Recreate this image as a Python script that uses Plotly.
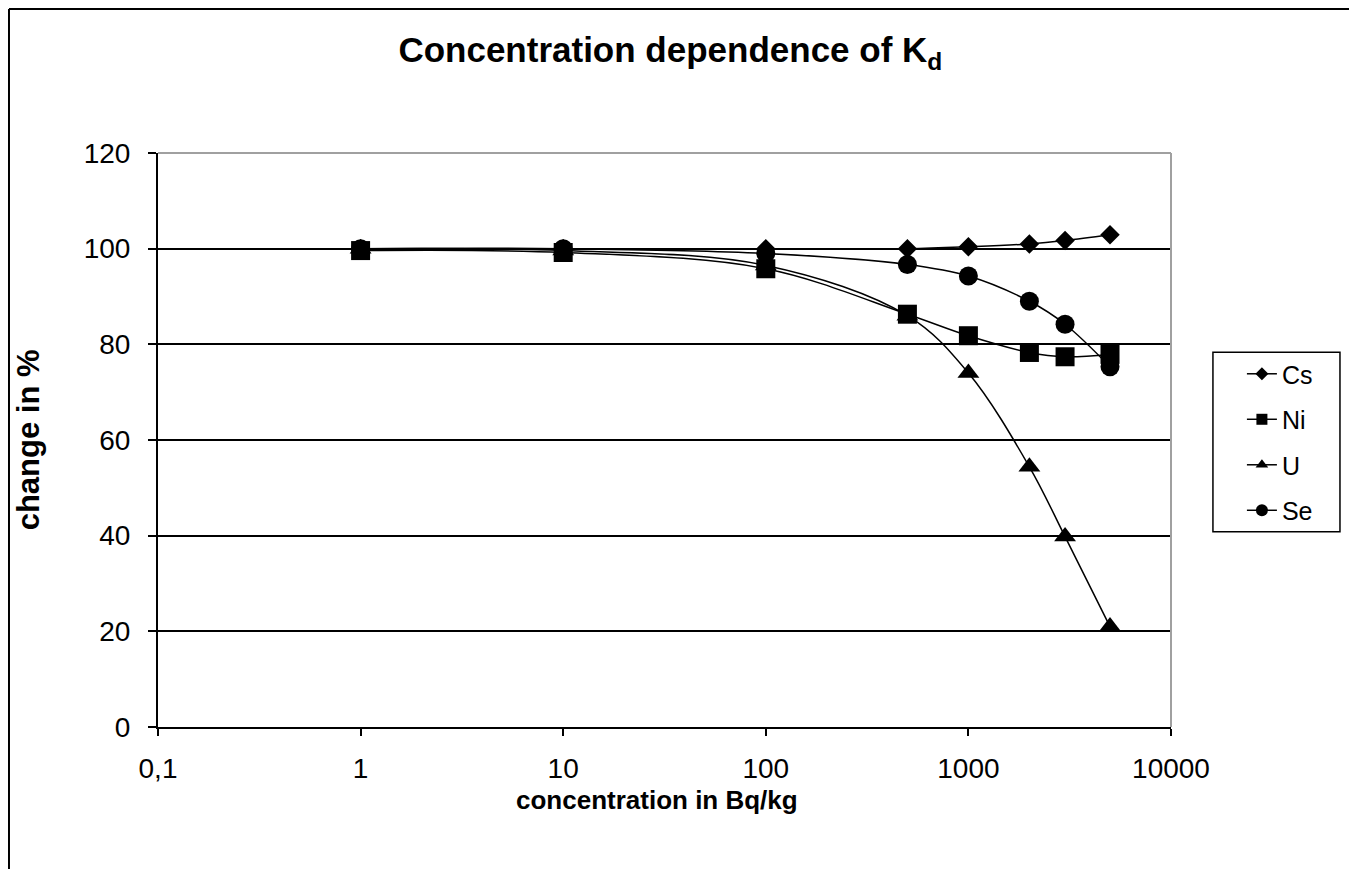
"""Concentration dependence of Kd - line chart with smoothed curves"""

import plotly.graph_objects as go

concentration = [1, 10, 100, 500, 1000, 2000, 3000, 5000]
cs_values = [100, 100, 100, 100, 100.4, 101.0, 101.7, 102.9]
ni_values = [99.6, 99.2, 95.8, 86.3, 81.8, 78.3, 77.4, 77.9]
u_values = [100, 99.6, 96.5, 86.0, 74.0, 54.4, 39.8, 21.0]
se_values = [100, 100, 99.0, 96.7, 94.3, 89.0, 84.2, 75.3]

x_tick_vals = [0.1, 1, 10, 100, 1000, 10000]
x_tick_text = ["0,1", "1", "10", "100", "1000", "10000"]

# name, values, symbol, plot marker size, legend marker size
series = [
    ("Cs", cs_values, "diamond", 15, 10),
    ("Ni", ni_values, "square", 19, 11),
    ("U", u_values, "triangle-up", 19, 11),
    ("Se", se_values, "circle", 19, 12),
]

FONT = "Liberation Sans, Arial, sans-serif"

fig = go.Figure()

# data traces (big markers, no legend)
for name, values, symbol, size, _ in series:
    fig.add_trace(
        go.Scatter(
            x=concentration,
            y=values,
            mode="lines+markers",
            line=dict(color="black", width=1.5, shape="spline", smoothing=1),
            marker=dict(symbol=symbol, size=size, color="black"),
            name=name,
            showlegend=False,
        )
    )

# legend entries with the smaller legend markers
for name, _, symbol, _, legend_size in series:
    fig.add_trace(
        go.Scatter(
            x=[None],
            y=[None],
            mode="lines+markers",
            line=dict(color="black", width=1.5),
            marker=dict(symbol=symbol, size=legend_size, color="black"),
            name=name,
            legendgroup=name,
        )
    )

fig.update_layout(
    width=1349,
    height=861,
    margin=dict(l=150, r=186, t=145, b=142),
    paper_bgcolor="white",
    plot_bgcolor="white",
    font=dict(family=FONT, color="black", size=28),
    title=dict(
        text="<b>Concentration dependence of K<sub>d</sub></b>",
        x=0.491,
        xanchor="center",
        y=0.951,
        yanchor="middle",
        font=dict(size=35),
    ),
    legend=dict(
        x=1.070,
        xanchor="left",
        y=0.655,
        yanchor="top",
        bgcolor="rgba(0,0,0,0)",
        borderwidth=0,
        font=dict(size=25),
        traceorder="grouped",
        tracegroupgap=10,
    ),
    shapes=[
        # gray plot-area border on top and right
        dict(type="line", xref="paper", yref="paper", x0=0, x1=1, y0=1, y1=1,
             line=dict(color="#a0a0a0", width=2)),
        dict(type="line", xref="paper", yref="paper", x0=1, x1=1, y0=0, y1=1,
             line=dict(color="#a0a0a0", width=2)),
        # legend box
        dict(type="rect", xref="paper", yref="paper", x0=1.0414, x1=1.1668, y0=0.340, y1=0.653,
             line=dict(color="black", width=1.5)),
        # chart-area border (left and top visible)
        dict(type="line", xref="paper", yref="paper", x0=-0.1471, x1=1.3, y0=1.2509, y1=1.2509,
             line=dict(color="black", width=2)),
        dict(type="line", xref="paper", yref="paper", x0=-0.1471, x1=-0.1471, y0=-0.3, y1=1.2509,
             line=dict(color="black", width=2)),
    ],
    annotations=[
        dict(text="<b>concentration in Bq/kg</b>", xref="paper", yref="paper",
             x=0.493, y=-0.127, xanchor="center", yanchor="middle",
             showarrow=False, font=dict(size=26)),
        dict(text="<b>change in %</b>", xref="paper", yref="paper",
             x=-0.128, y=0.5, xanchor="center", yanchor="middle", textangle=-90,
             showarrow=False, font=dict(size=31)),
    ],
)

fig.update_xaxes(
    type="log",
    range=[-1, 4],
    tickvals=x_tick_vals,
    ticktext=x_tick_text,
    showgrid=False,
    zeroline=False,
    showline=True,
    linecolor="black",
    linewidth=2,
    ticks="outside",
    ticklen=7,
    tickwidth=1.5,
    tickcolor="black",
    ticklabelstandoff=8,
)

fig.update_yaxes(
    range=[0, 120],
    dtick=20,
    showgrid=True,
    gridcolor="black",
    gridwidth=1.5,
    zeroline=False,
    showline=True,
    linecolor="black",
    linewidth=2,
    ticks="outside",
    ticklen=8,
    tickwidth=1.5,
    tickcolor="black",
    ticklabelstandoff=12,
)

fig.write_html("out.html")
